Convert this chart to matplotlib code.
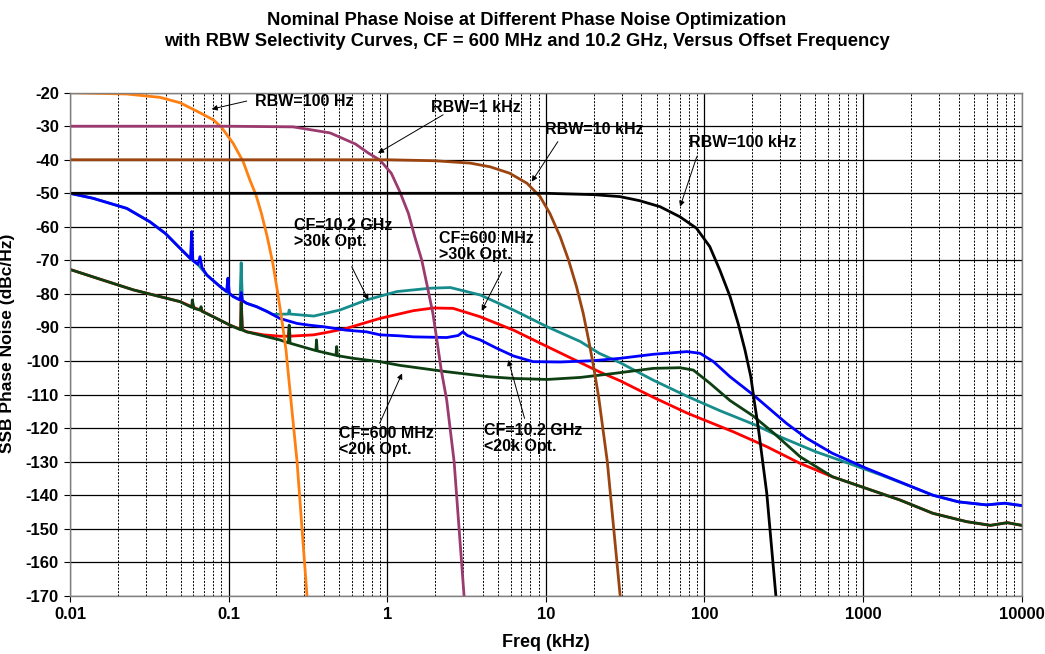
import matplotlib
matplotlib.use("Agg")
import matplotlib.pyplot as plt
from matplotlib.ticker import FixedLocator, NullFormatter, LogLocator

plt.rcParams['font.family'] = ['Liberation Sans Narrow', 'Liberation Sans', 'DejaVu Sans']
plt.rcParams['font.weight'] = 'bold'
plt.rcParams['axes.unicode_minus'] = False

# RBW selectivity curves (offset kHz, dB)
rbw100_f = [0.01, 0.0228, 0.0369, 0.0494, 0.066, 0.0801, 0.09, 0.1068, 0.1236, 0.136, 0.1488,
            0.161, 0.175, 0.19, 0.2025, 0.2165, 0.23, 0.2335, 0.270, 0.312]
rbw100_v = [-20, -20.4, -21.4, -23.0, -26.0, -28.1, -30.3, -35.1, -40.6, -46.0, -50.5,
            -56.0, -62.9, -70.9, -78.8, -87.8, -96.7, -100, -130, -170]

rbw1k_f = [0.01, 0.1, 0.255, 0.4365, 0.63, 0.76, 0.9, 1.06, 1.2, 1.36, 1.49, 1.65, 1.79,
           1.94, 2.07, 2.19, 2.37, 2.64, 3.05]
rbw1k_v = [-30, -30, -30.2, -32.0, -35.3, -38.0, -40.1, -44.0, -49.5, -56.0, -62.9, -69.9, -77.8,
           -85.8, -94.7, -102.7, -111.6, -130, -170]

rbw10k_f = [0.01, 1.0, 2.0, 3.33, 4.45, 5.9, 7.6, 9.2, 10.6, 12.3, 13.9, 15.6, 17.2, 18.6,
            20.0, 21.5, 24.4, 29.4]
rbw10k_v = [-40, -40, -40.3, -41.0, -42.1, -44.0, -47.0, -51.0, -56.0, -62.9, -69.9, -77.8, -85.8, -93.7,
            -101.7, -110.6, -130, -170]

rbw100k_f = [0.01, 10, 20, 29.4, 39, 52.5, 70, 89, 108, 125, 145, 163, 180, 196, 207, 218, 247, 282]
rbw100k_v = [-50, -50, -50.4, -51.0, -52.2, -54.0, -57.0, -60.4, -65.9, -72.9, -80.8, -88.8, -96.7,
             -104.7, -112.6, -119.6, -139.4, -170]

# CF=10.2 GHz, <20k optimization (blue)
blue_f = [0.01, 0.014, 0.0228, 0.0319, 0.04, 0.048, 0.0575, 0.0585, 0.0595, 0.064, 0.066, 0.068,
          0.073, 0.0883, 0.097, 0.099, 0.101, 0.107, 0.118, 0.12, 0.122, 0.13, 0.15, 0.174, 0.21,
          0.27, 0.32, 0.4, 0.55, 0.74, 0.9, 1.2, 1.46, 2.37, 2.8, 3.0, 3.2, 3.85, 4.9, 6.25, 8.3,
          12.3, 19.9, 29.4, 47.5, 77.5, 93.8, 114, 145, 203, 329, 440, 640, 1050, 1700, 2750,
          4000, 6000, 7800, 10000]
blue_v = [-50, -51.5, -54.5, -58.5, -62.0, -65.8, -69.5, -61.4, -70.0, -71.2, -68.9, -72.2,
          -74.4, -77.8, -79.3, -75.3, -79.8, -80.8, -81.8, -79.6, -82.0, -82.8, -83.8, -85.2, -87.3,
          -88.8, -89.3, -89.8, -90.8, -91.3, -92.2, -92.5, -92.8, -93.0, -92.4, -91.3, -92.4, -93.7, -96.2, -98.5, -100.2,
          -100.3, -99.9, -99.2, -98.0, -97.2, -97.7, -100.2, -104.7, -110.1, -118.6, -123.0, -127.5, -132.0, -136.0, -140.0,
          -142.0, -142.9, -142.4, -143.1]

# CF=10.2 GHz, >30k optimization (teal)
teal_f = [0.01, 0.014, 0.0228, 0.0319, 0.04, 0.048, 0.0575, 0.064, 0.073, 0.0883, 0.107,
          0.118, 0.12, 0.122, 0.13, 0.15, 0.174, 0.19, 0.238, 0.241, 0.244, 0.344, 0.503, 0.74,
          1.15, 1.86, 2.5, 3.85, 6.25, 10.2, 16.5, 21.7, 29.4, 47.5, 77.5, 125, 210, 300, 500,
          810, 1300, 1900, 2750, 4000, 6000, 7800, 10000]
teal_v = [-50, -51.5, -54.5, -58.5, -62.0, -65.8, -69.5, -71.2, -74.4, -77.8, -80.8,
          -81.8, -70.7, -82.0, -82.8, -83.8, -85.2, -86.1, -86.0, -84.8, -86.0, -86.6, -84.8, -81.8,
          -79.3, -78.3, -78.1, -80.3, -84.8, -89.8, -94.2, -97.7, -100.5, -105.7, -110.5, -114.8, -119.1, -122.6, -127.0,
          -130.5, -134.0, -137.0, -140.0, -142.0, -142.9, -142.4, -143.1]

# CF=600 MHz, >30k optimization (red)
red_f = [0.01, 0.01545, 0.0251, 0.0407, 0.0494, 0.066, 0.08, 0.1018, 0.115, 0.119, 0.12, 0.122,
         0.13, 0.166, 0.21, 0.238, 0.241, 0.244, 0.344, 0.435, 0.55, 0.9, 1.46, 1.95, 2.6, 3.85,
         6.25, 10.2, 21.7, 29.4, 47.5, 77.5, 152, 246, 400, 640, 1050, 1700, 2750, 4500, 6350,
         8100, 10000]
red_v = [-72.7, -75.6, -78.8, -81.3, -82.3, -84.8, -86.8, -89.3, -90.3, -90.5, -80.8, -90.6,
         -91.3, -92.2, -92.6, -92.6, -89.8, -92.6, -92.2, -91.3, -90.3, -87.3, -85.0, -84.2, -84.3, -86.8,
         -90.8, -95.7, -103.2, -105.9, -110.8, -115.5, -121.1, -125.5, -130.5, -134.5, -138.0, -141.4, -145.4, -147.9, -149.0,
         -148.2, -149.0]

# CF=600 MHz, <20k optimization (dark green)
green_f = [0.01, 0.01545, 0.0251, 0.0407, 0.0494, 0.0585, 0.059, 0.0605, 0.066, 0.067, 0.068,
           0.08, 0.1018, 0.119, 0.12, 0.122, 0.13, 0.21, 0.238, 0.241, 0.244, 0.355, 0.358, 0.362,
           0.475, 0.48, 0.485, 0.61, 0.9, 1.2, 2.37, 4.4, 6.25, 10.2, 16.5, 26.9, 47.5, 70, 85,
           108, 145, 203, 275, 400, 640, 1050, 1700, 2750, 4500, 6350, 8100, 10000]
green_v = [-72.7, -75.6, -78.8, -81.3, -82.3, -84.0, -81.8, -84.3, -84.8, -83.8, -85.2,
           -86.8, -89.3, -90.7, -82.7, -90.8, -91.3, -93.7, -94.6, -89.3, -94.7, -96.9, -93.7, -97.0,
           -98.3, -95.7, -98.4, -99.2, -100.2, -101.3, -103.2, -104.7, -105.2, -105.5, -104.9, -103.7, -102.2, -102.0, -102.7,
           -106.6, -111.8, -116.4, -121.6, -128.5, -134.5, -138.0, -141.4, -145.4, -147.9, -149.0, -148.2, -149.0]

yticks = list(range(-170, -19, 10))
xticks = [0.01, 0.1, 1, 10, 100, 1000, 10000]
xticklabels = ['0.01', '0.1', '1', '10', '100', '1000', '10000']

fig = plt.figure(figsize=(10.45, 6.54), dpi=100)
ax = fig.add_axes([0.067, 0.089, 0.9107, 0.7693])

ax.plot(teal_f, teal_v, color='#168C8C', lw=2)
ax.plot(red_f, red_v, color='#FF0000', lw=2)
ax.plot(blue_f, blue_v, color='#0000FF', lw=2)
ax.plot(green_f, green_v, color='#0E3F12', lw=2)

ax.plot(rbw100_f, rbw100_v, color='#FF7F10', lw=2)
ax.plot(rbw1k_f, rbw1k_v, color='#9B3A6E', lw=2)
ax.plot(rbw10k_f, rbw10k_v, color='#9C4410', lw=2)
ax.plot(rbw100k_f, rbw100k_v, color='#000000', lw=2)

ax.set_xscale('log')
ax.set_xlim(0.01, 10000)
ax.set_ylim(-170, -20)
ax.xaxis.set_major_locator(FixedLocator(xticks))
ax.set_xticklabels(xticklabels)
ax.xaxis.set_minor_locator(LogLocator(base=10, subs=range(2, 10)))
ax.xaxis.set_minor_formatter(NullFormatter())
ax.set_yticks(yticks)

ax.grid(True, which='major', axis='both', color='black', lw=0.9)
ax.grid(True, which='minor', axis='x', color='black', lw=0.7, ls=(0, (2, 1.5)))
ax.set_axisbelow(True)
for s in ax.spines.values():
    s.set_color('#808080')
    s.set_linewidth(1)
ax.tick_params(which='minor', length=0)
ax.tick_params(which='major', length=4, labelsize=12, pad=4)
for lab in ax.get_xticklabels() + ax.get_yticklabels():
    lab.set_fontweight('bold')

fig.text(0.504, 0.969, 'Nominal Phase Noise at Different Phase Noise Optimization',
         ha='center', va='center', fontsize=13.2, fontweight='bold')
fig.text(0.504, 0.936, 'with RBW Selectivity Curves, CF = 600 MHz and 10.2 GHz, Versus Offset Frequency',
         ha='center', va='center', fontsize=13.2, fontweight='bold')
fig.text(0.007, 0.475, 'SSB Phase Noise (dBc/Hz)', rotation=90, ha='center', va='center',
         fontsize=12.5, fontweight='bold')
fig.text(0.522, 0.017, 'Freq (kHz)', ha='center', va='center', fontsize=13, fontweight='bold')

arrow = dict(arrowstyle='-|>', color='black', lw=0.7, mutation_scale=8, shrinkA=0, shrinkB=0)
notes = [
    ('RBW=100 Hz', (0.1468, -22.5), (0.130, -22.5), (0.0782, -24.9)),
    ('RBW=1 kHz', (1.89, -24.3), (2.25, -26.6), (0.875, -38.0)),
    ('RBW=10 kHz', (9.89, -31.1), (11.9, -34.6), (8.15, -46.5)),
    ('RBW=100 kHz', (80, -35.0), (89.4, -39.1), (70.2, -54.0)),
    ('CF=10.2 GHz\n>30k Opt.', (0.258, -62.1), (0.597, -71.9), (0.76, -81.8)),
    ('CF=600 MHz\n>30k Opt.', (2.12, -65.9), (5.27, -73.4), (3.94, -85.0)),
    ('CF=600 MHz\n<20k Opt.', (0.497, -124.0), (0.895, -118.6), (1.24, -103.7)),
    ('CF=10.2 GHz\n<20k Opt.', (4.07, -123.1), (7.34, -117.1), (5.80, -99.7)),
]
for txt, pos, tail, head in notes:
    ax.text(pos[0], pos[1], txt, ha='left', va='center', fontsize=11.5, fontweight='bold',
            linespacing=1.1)
    ax.annotate('', xy=head, xytext=tail, arrowprops=arrow)

fig.savefig('out.png', dpi=100)
